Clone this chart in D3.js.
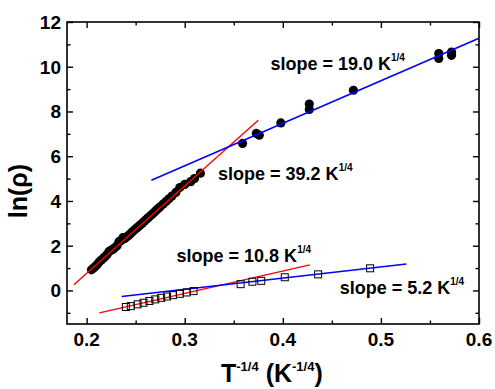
<!DOCTYPE html>
<html>
<head>
<meta charset="utf-8">
<script src="https://cdn.jsdelivr.net/npm/d3@7"></script>
<style>
  body { margin: 0; background: #fff; }
  text { font-family: "Liberation Sans", Arial, sans-serif; font-weight: bold; fill: #000; }
</style>
</head>
<body>
<script>
// filled circles: ln(rho) vs T^-1/4
const circleX = [0.205, 0.207, 0.209, 0.211, 0.213, 0.215, 0.217, 0.219, 0.221, 0.223,
  0.225, 0.227, 0.229, 0.231, 0.233, 0.235, 0.237, 0.239, 0.241, 0.243,
  0.245, 0.247, 0.249, 0.251, 0.253, 0.255, 0.257, 0.259, 0.261, 0.263,
  0.265, 0.267, 0.269, 0.271, 0.273, 0.275, 0.278, 0.281, 0.284, 0.287,
  0.291, 0.295, 0.300, 0.306, 0.310, 0.316,
  0.359, 0.373, 0.376, 0.398, 0.427, 0.427, 0.472, 0.559, 0.559, 0.572, 0.572];
const circleY = [0.92, 1.0, 1.08, 1.17, 1.28, 1.36, 1.44, 1.52, 1.62, 1.75,
  1.8, 1.84, 1.92, 2.0, 2.18, 2.22, 2.36, 2.32, 2.4, 2.47,
  2.55, 2.63, 2.71, 2.79, 2.86, 2.94, 3.02, 3.1, 3.18, 3.26,
  3.34, 3.42, 3.5, 3.58, 3.66, 3.74, 3.86, 3.98, 4.1, 4.22,
  4.38, 4.6, 4.74, 4.86, 5.0, 5.24,
  6.57, 7.02, 6.94, 7.49, 8.33, 8.09, 8.95, 10.59, 10.37, 10.66, 10.51];

// open squares
const squareX = [0.240, 0.245, 0.252, 0.258, 0.264, 0.270, 0.276, 0.282, 0.288, 0.295,
  0.302, 0.309, 0.357, 0.369, 0.378, 0.402, 0.436, 0.489];
const squareY = [-0.74, -0.70, -0.62, -0.55, -0.47, -0.40, -0.33, -0.27, -0.21, -0.15,
  -0.09, -0.03, 0.28, 0.39, 0.43, 0.59, 0.72, 0.99];

// fit lines: [x1, y1, x2, y2]
const fitRed1 = [0.187, 0.25, 0.375, 7.61];
const fitBlue1 = [0.266, 4.93, 0.6, 11.27];
const fitRed2 = [0.213, -1.0, 0.4275, 1.14];
const fitBlue2 = [0.2357, -0.27, 0.526, 1.18];

const slopeLabels = ['slope = 19.0 K', 'slope = 39.2 K', 'slope = 10.8 K', 'slope = 5.2 K'];
const slopeAnchorX = [0.3874, 0.334, 0.2917, 0.458];
const slopeAnchorY = [9.84, 4.93, 1.26, -0.17];

const xTicks = [0.2, 0.3, 0.4, 0.5, 0.6];
const xMinor = [0.25, 0.35, 0.45, 0.55];
const yTicks = [0, 2, 4, 6, 8, 10, 12];
const yMinor = [-1, 1, 3, 5, 7, 9, 11];

const margin = { top: 22, right: 16, bottom: 65, left: 67 };
const width = 495 - margin.left - margin.right;
const height = 389 - margin.top - margin.bottom;

const svg = d3.select('body').append('svg')
    .attr('width', 495)
    .attr('height', 389)
  .append('g')
    .attr('transform', `translate(${margin.left}, ${margin.top})`);

const x = d3.scaleLinear().domain([0.18, 0.6]).range([0, width]);
const y = d3.scaleLinear().domain([-1.5, 12]).range([height, 0]);

const lines = [
  { seg: fitRed1, color: '#ff0000', w: 1.4 },
  { seg: fitBlue1, color: '#0000ff', w: 1.6 },
  { seg: fitRed2, color: '#ff0000', w: 1.4 },
  { seg: fitBlue2, color: '#0000ff', w: 1.6 }
];

// circles (drawn under the fit lines)
svg.selectAll('.dot')
  .data(circleX.map((v, i) => [v, circleY[i]]))
  .enter().append('circle')
    .attr('class', 'dot')
    .attr('cx', d => x(d[0]))
    .attr('cy', d => y(d[1]))
    .attr('r', 4.6)
    .attr('fill', '#000');

svg.selectAll('.fit')
  .data(lines)
  .enter().append('line')
    .attr('class', 'fit')
    .attr('x1', d => x(d.seg[0]))
    .attr('y1', d => y(d.seg[1]))
    .attr('x2', d => x(d.seg[2]))
    .attr('y2', d => y(d.seg[3]))
    .attr('stroke', d => d.color)
    .attr('stroke-width', d => d.w);

svg.selectAll('.sq')
  .data(squareX.map((v, i) => [v, squareY[i]]))
  .enter().append('rect')
    .attr('class', 'sq')
    .attr('x', d => x(d[0]) - 3.5)
    .attr('y', d => y(d[1]) - 3.5)
    .attr('width', 7)
    .attr('height', 7)
    .attr('fill', 'none')
    .attr('stroke', '#000')
    .attr('stroke-width', 1);

// frame
svg.append('rect')
  .attr('width', width)
  .attr('height', height)
  .attr('fill', 'none')
  .attr('stroke', '#000')
  .attr('stroke-width', 1.6);

// inward ticks on all four sides
function tickAxis(axisFn, scale, vals, size, transform) {
  const g = svg.append('g')
    .attr('transform', transform)
    .call(axisFn(scale).tickValues(vals).tickSize(size).tickFormat(''));
  g.select('.domain').remove();
  g.selectAll('line').attr('stroke', '#000').attr('stroke-width', 1.4);
  return g;
}
tickAxis(d3.axisBottom, x, xTicks, -6, `translate(0,${height})`);
tickAxis(d3.axisBottom, x, xMinor, -3.5, `translate(0,${height})`);
tickAxis(d3.axisTop, x, xTicks, -6, 'translate(0,0)');
tickAxis(d3.axisTop, x, xMinor, -3.5, 'translate(0,0)');
tickAxis(d3.axisLeft, y, yTicks, -6, 'translate(0,0)');
tickAxis(d3.axisLeft, y, yMinor, -3.5, 'translate(0,0)');
tickAxis(d3.axisRight, y, yTicks, -6, `translate(${width},0)`);
tickAxis(d3.axisRight, y, yMinor, -3.5, `translate(${width},0)`);

// tick labels
svg.selectAll('.xl')
  .data(xTicks)
  .enter().append('text')
    .attr('x', d => x(d))
    .attr('y', height + 22)
    .attr('text-anchor', 'middle')
    .style('font-size', '19px')
    .text(d => d3.format('.1f')(d));

svg.selectAll('.yl')
  .data(yTicks)
  .enter().append('text')
    .attr('x', -6)
    .attr('y', d => y(d) + 7)
    .attr('text-anchor', 'end')
    .style('font-size', '19px')
    .text(d => d);

// axis titles
const xt = svg.append('text')
  .attr('x', 154)
  .attr('y', height + 58)
  .style('font-size', '25px');
xt.append('tspan').text('T');
xt.append('tspan').attr('dy', -11).style('font-size', '13px').text('-1/4');
xt.append('tspan').attr('dy', 11).text(' (K');
xt.append('tspan').attr('dy', -11).style('font-size', '13px').text('-1/4');
xt.append('tspan').attr('dy', 11).text(')');

svg.append('text')
  .attr('transform', `translate(${-40},${169}) rotate(-90)`)
  .attr('text-anchor', 'middle')
  .style('font-size', '25px')
  .text('ln(ρ)');

// slope annotations
slopeLabels.forEach((s, i) => {
  const t = svg.append('text')
    .attr('x', x(slopeAnchorX[i]))
    .attr('y', y(slopeAnchorY[i]))
    .style('font-size', '18px');
  t.append('tspan').text(s);
  t.append('tspan').attr('dy', -9).style('font-size', '10px').text('1/4');
});
</script>
</body>
</html>
